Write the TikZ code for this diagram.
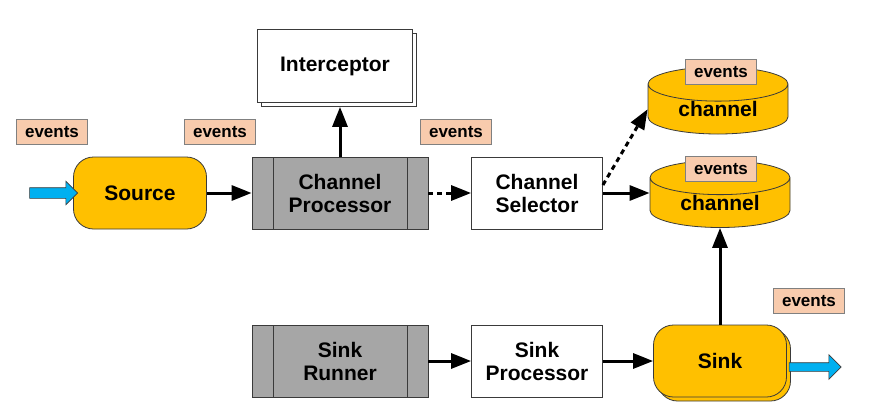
\documentclass[tikz,border=0pt]{standalone}
\usepackage{fontspec}
\setmainfont{Liberation Sans}
\usetikzlibrary{arrows.meta,shapes.geometric,shapes.arrows,shadows}
\definecolor{gold}{HTML}{FFC000}
\definecolor{peach}{HTML}{F8CBAD}
\definecolor{procgrey}{HTML}{A6A6A6}
\definecolor{flowblue}{HTML}{00B0F0}
\definecolor{edge}{HTML}{3A3A3A}
\begin{document}
\begin{tikzpicture}[x=1pt,y=-1pt,
        every node/.style={font=\bfseries\fontsize{21}{23}\selectfont, align=center},
        box/.style={draw=edge, line width=0.8pt, fill=white, minimum width=131pt, minimum height=72pt, inner sep=0pt},
        proc/.style={box, fill=procgrey, minimum width=176pt,
            path picture={\draw[edge, line width=0.8pt] ([xshift=21pt]path picture bounding box.north west) -- ([xshift=21pt]path picture bounding box.south west);
                          \draw[edge, line width=0.8pt] ([xshift=-21pt]path picture bounding box.north east) -- ([xshift=-21pt]path picture bounding box.south east);}},
        agent/.style={draw=edge, line width=0.8pt, fill=gold, rounded corners=20pt, minimum width=133pt, minimum height=72pt},
        chan/.style={cylinder, shape border rotate=90, draw=edge, line width=0.8pt, fill=gold, minimum width=140pt, aspect=0.43, inner sep=0pt, anchor=shape center},
        evt/.style={draw=gray, line width=0.8pt, fill=peach, font=\bfseries\fontsize{17}{20}\selectfont, minimum width=71pt, minimum height=25pt, inner sep=0pt},
        flow/.style={line width=3pt, -{Triangle[length=20pt,width=15pt]}},
        fat/.style={single arrow, draw=edge, line width=0.6pt, fill=flowblue, inner xsep=0pt, inner ysep=5pt, minimum width=1pt}]
        \useasboundingbox (0,0) rectangle (894,415);
        \node[evt] (evsrc) at (52,132) {events};
        \node[evt] (evcp) at (220,132) {events};
        \node[evt] (evcs) at (456,132) {events};
        \node[agent] (source) at (140,193) {Source};
        \node[fat, minimum height=48pt, single arrow head extend=6.5pt] (inflow) at (51,193) {};
        \node[proc] (cp) at (340,193) {Channel\\Processor};
        \node[box, minimum width=155pt, minimum height=73pt, copy shadow={shadow xshift=4pt, shadow yshift=-4pt}] (icp) at (335,66) {Interceptor};
        \node[box] (cs) at (537,193) {Channel\\Selector};
        \node[chan, minimum height=65pt] (ch1) at (718,100.5) {channel};
        \node[chan, minimum height=58pt] (ch2) at (720,194) {channel};
        \node[evt] (evch1) at (721,72) {events};
        \node[evt] (evch2) at (721,169) {events};
        \node[proc] (runner) at (340,361) {Sink\\Runner};
        \node[box] (sp) at (537,361) {Sink\\Processor};
        \node[agent, copy shadow={shadow xshift=4pt, shadow yshift=-4pt}] (sink) at (720,361) {Sink};
        \node[fat, minimum height=52pt, single arrow head extend=8pt, inner ysep=4pt] (outflow) at (813,367) {};
        \node[evt] (evsink) at (809,301) {events};
        \draw[flow] (source.east) -- (cp.west);
        \draw[flow] (cp.north) -- ([yshift=-4pt]cp.north |- icp.south);
        \draw[flow, dash pattern=on 5pt off 4pt] (cp.east) -- (cs.west);
        \draw[flow, dash pattern=on 5pt off 4pt] ([yshift=8pt]cs.east) -- (ch1.west);
        \draw[flow] (cs.east) -- (cs.east -| ch2.west);
        \draw[flow] (runner.east) -- (sp.west);
        \draw[flow] (sp.east) -- (sink.west);
        \draw[flow] (sink.north) -- (ch2.south);
    \end{tikzpicture}
\end{document}
